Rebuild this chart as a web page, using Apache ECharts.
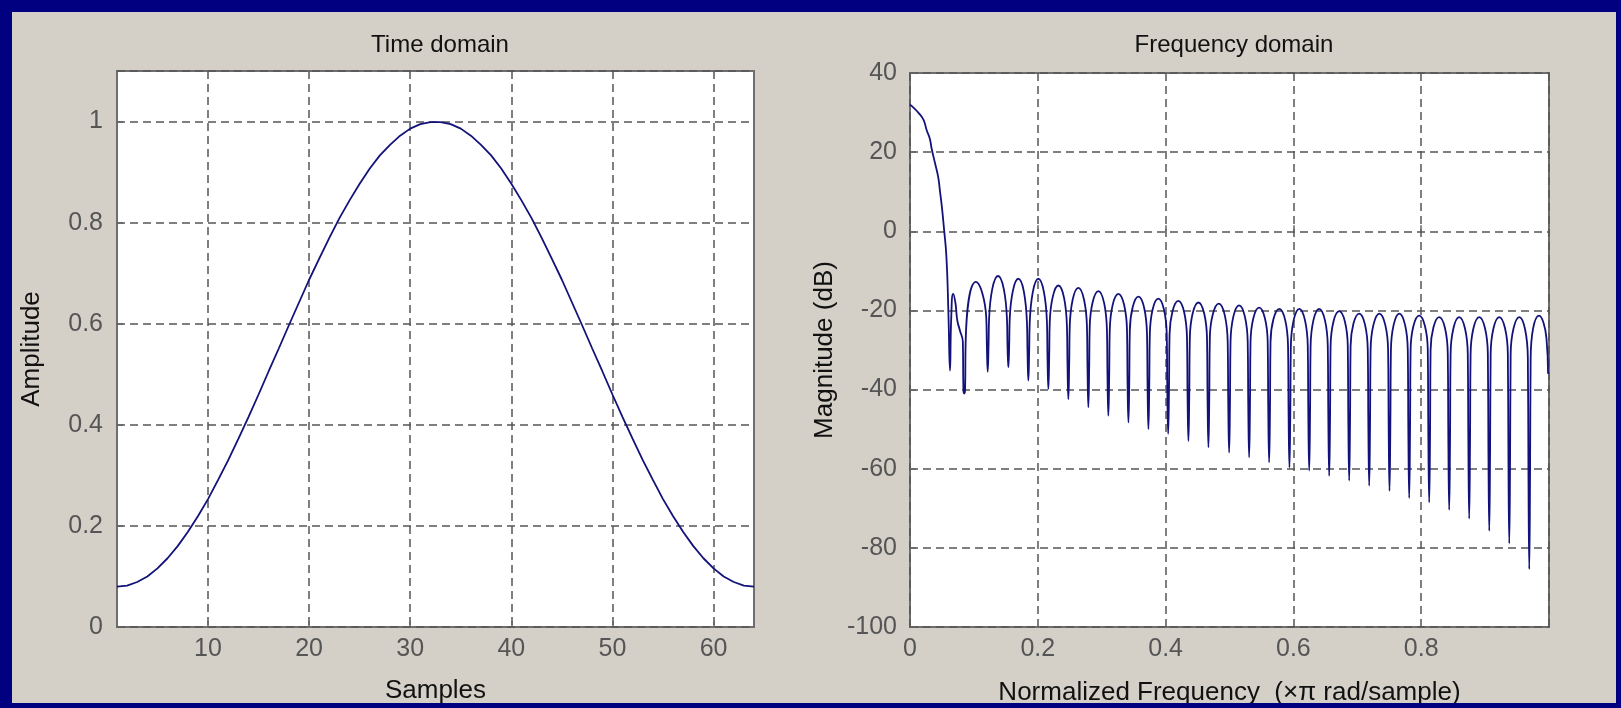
<!DOCTYPE html>
<html>
<head>
<meta charset="utf-8">
<title>Window Visualization</title>
<script src="https://cdn.jsdelivr.net/npm/echarts@6.0.0/dist/echarts.min.js"></script>
<style>
  html, body { margin: 0; padding: 0; }
  body { width: 1621px; height: 708px; background: #000080; overflow: hidden; position: relative; }
  #chart { position: absolute; left: 12px; top: 12px; width: 1604px; height: 691px; background: #d4d0c8; }
</style>
</head>
<body>
<div id="chart"></div>
<script>
// time domain (64-point window)
var samples = [1, 2, 3, 4, 5, 6, 7, 8, 9, 10, 11, 12, 13, 14, 15, 16, 17, 18, 19, 20, 21, 22, 23, 24, 25, 26, 27, 28, 29, 30, 31, 32,
  33, 34, 35, 36, 37, 38, 39, 40, 41, 42, 43, 44, 45, 46, 47, 48, 49, 50, 51, 52, 53, 54, 55, 56, 57, 58, 59, 60, 61, 62, 63, 64];
var amplitude = [0.080, 0.082, 0.089, 0.100, 0.116, 0.136, 0.160, 0.188, 0.219, 0.253, 0.291, 0.330, 0.372, 0.415, 0.460, 0.506,
  0.551, 0.597, 0.642, 0.687, 0.729, 0.770, 0.809, 0.844, 0.877, 0.907, 0.933, 0.954, 0.972, 0.986, 0.995, 0.999,
  0.999, 0.995, 0.986, 0.972, 0.954, 0.933, 0.907, 0.877, 0.844, 0.809, 0.770, 0.729, 0.687, 0.642, 0.597, 0.551,
  0.506, 0.460, 0.415, 0.372, 0.330, 0.291, 0.253, 0.219, 0.188, 0.160, 0.136, 0.116, 0.100, 0.089, 0.082, 0.080];
var sampleTicks = [10, 20, 30, 40, 50, 60];

// frequency domain: main lobe + first small lobe
var mainFreq = [0, 0.005, 0.013, 0.021, 0.026, 0.031, 0.034, 0.039, 0.044, 0.047, 0.050, 0.053, 0.057, 0.060, 0.0626,
  0.0645, 0.0675, 0.071, 0.074, 0.078];
var mainDb = [32, 31.3, 30, 28.2, 25.6, 23.4, 20.8, 17.3, 13.8, 10, 6, 1, -6.5, -20, -35.2,
  -22, -15.8, -18, -22.5, -25];
// side lobes: nulls (position, depth), thick part of the null spikes, arc ends, lobe peaks
var nullFreq = [0.0849, 0.1216, 0.1539, 0.1852, 0.2165, 0.2478, 0.2791, 0.3104, 0.3418, 0.3731, 0.404, 0.4357, 0.467, 0.4994,
  0.5307, 0.562, 0.5938, 0.6247, 0.656, 0.6873, 0.7186, 0.7504, 0.7812, 0.8125, 0.8438, 0.8751, 0.9065, 0.9378, 0.9691];
var nullDb = [-41, -35.5, -34.4, -37.7, -39.8, -42.4, -44.5, -46.6, -48.3, -50, -51.2, -53, -54.6, -55.9,
  -57.1, -58.4, -59.7, -60.5, -61.8, -63, -64.3, -65.6, -67.4, -68.5, -70.4, -72.6, -75.7, -78.9, -85.4];
var spikeDb = [-40, -29, -29, -30.5, -32, -34, -34.7, -36.9, -38.5, -39.4, -40.3, -42, -42.8, -44,
  -44.5, -45.7, -46.6, -47, -47.8, -48.5, -49.1, -49.5, -50.8, -52, -52.9, -53.3, -55.4, -57.1, -60];
var edgeDb = [-28, -22, -22, -23, -23, -24, -24, -25, -25, -26, -26, -27, -27, -28,
  -28, -28, -29, -29, -29, -29, -30, -30, -30, -30, -31, -31, -31, -31, -32];
var lobePeakDb = [-12.8, -11.3, -12, -12, -13.7, -14.3, -15.1, -15.8, -16.5, -17, -17.6, -18, -18.3, -18.7,
  -19.3, -19.6, -19.6, -19.6, -20.2, -20.8, -20.8, -20.8, -21.3, -21.7, -21.7, -21.7, -21.7, -21.7];
var tailFreq = [0.9845, 0.996, 0.9985];
var tailDb = [-21.3, -27, -36];

var freqData = mainFreq.map(function (f, i) { return [f, mainDb[i]]; });
nullFreq.forEach(function (f, i) {
  freqData.push([f - 0.0022, edgeDb[i]], [f - 0.0013, spikeDb[i]], [f, nullDb[i]],
    [f + 0.0013, spikeDb[i]], [f + 0.0022, edgeDb[i]]);
  if (i < lobePeakDb.length) {
    freqData.push([(f + nullFreq[i + 1]) / 2, lobePeakDb[i]]);
  }
});
tailFreq.forEach(function (f, i) { freqData.push([f, tailDb[i]]); });

var FONT = '"Liberation Sans", Arial, sans-serif';
var lineColor = '#12127a';
var gridLine = { show: true, lineStyle: { color: '#555', width: 1.5, type: [8, 5] } };
var tick = { show: true, inside: true, length: 6, lineStyle: { color: '#666', width: 1.5 } };
var tickText = { fontSize: 25, color: '#555', fontFamily: FONT };
var nameText = { fontSize: 26, color: '#111', fontFamily: FONT };
var titleText = { fontSize: 24, fontWeight: 'normal', color: '#111', fontFamily: FONT };
var gridBase = { show: true, backgroundColor: '#fff', borderColor: '#6e6e6e', borderWidth: 2, containLabel: false, outerBoundsMode: 'none' };

var chart = echarts.init(document.getElementById('chart'));
chart.setOption({
  animation: false,
  title: [
    { text: 'Time domain', left: 423, top: 16, textAlign: 'center', textStyle: titleText },
    { text: 'Frequency domain', left: 1217, top: 16, textAlign: 'center', textStyle: titleText }
  ],
  grid: [
    Object.assign({ left: 105, top: 59, width: 637, height: 556 }, gridBase),
    Object.assign({ left: 898, top: 61, width: 639, height: 554 }, gridBase)
  ],
  xAxis: [
    {
      type: 'value', gridIndex: 0, min: 1, max: 64,
      name: 'Samples', nameLocation: 'middle', nameGap: 51, nameTextStyle: nameText,
      axisLine: { show: false },
      axisTick: Object.assign({ customValues: sampleTicks }, tick),
      axisLabel: Object.assign({ customValues: sampleTicks, margin: 10 }, tickText),
      splitLine: gridLine
    },
    {
      type: 'value', gridIndex: 1, min: 0, max: 1, interval: 0.2,
      name: 'Normalized Frequency  (\u00d7\u03c0 rad/sample)', nameLocation: 'middle', nameGap: 53, nameTextStyle: nameText,
      axisLine: { show: false },
      axisTick: tick,
      axisLabel: Object.assign({ margin: 10, showMaxLabel: false }, tickText),
      splitLine: gridLine
    }
  ],
  yAxis: [
    {
      type: 'value', gridIndex: 0, min: 0, max: 1.1, interval: 0.2,
      name: 'Amplitude', nameLocation: 'middle', nameGap: 72, nameTextStyle: nameText,
      axisLine: { show: false },
      axisTick: tick,
      axisLabel: Object.assign({ margin: 14, showMaxLabel: false }, tickText),
      splitLine: gridLine
    },
    {
      type: 'value', gridIndex: 1, min: -100, max: 40, interval: 20,
      name: 'Magnitude (dB)', nameLocation: 'middle', nameGap: 72, nameTextStyle: nameText,
      axisLine: { show: false },
      axisTick: tick,
      axisLabel: Object.assign({ margin: 13 }, tickText),
      splitLine: gridLine
    }
  ],
  series: [
    {
      type: 'line', xAxisIndex: 0, yAxisIndex: 0,
      data: samples.map(function (s, i) { return [s, amplitude[i]]; }),
      showSymbol: false, silent: true,
      lineStyle: { color: lineColor, width: 1.8 }
    },
    {
      type: 'line', xAxisIndex: 1, yAxisIndex: 1,
      data: freqData, smooth: 0.5,
      showSymbol: false, silent: true,
      lineStyle: { color: lineColor, width: 1.8 }
    }
  ]
});
</script>
</body>
</html>
